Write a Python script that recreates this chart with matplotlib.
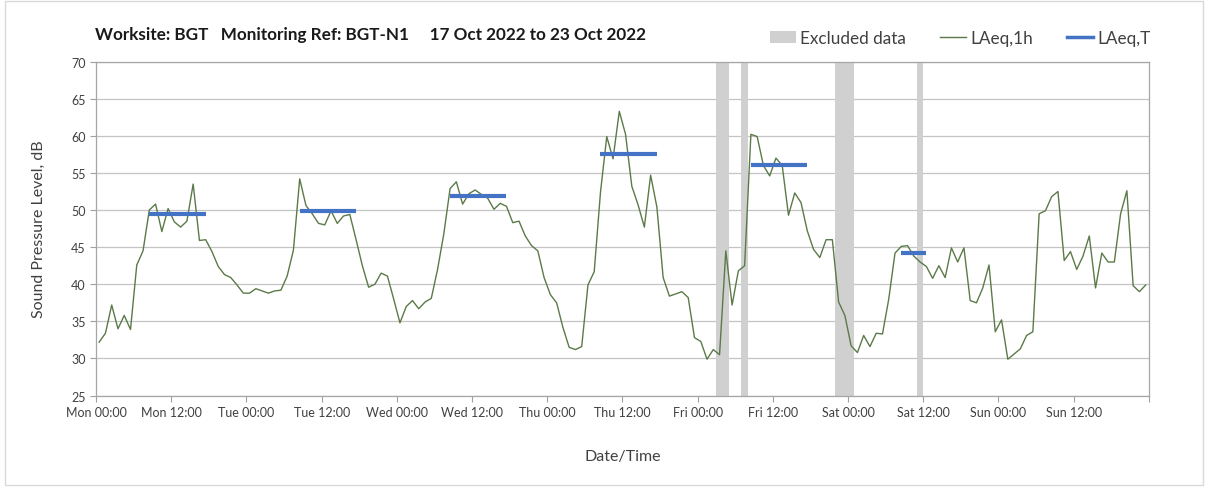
import matplotlib
matplotlib.use("Agg")
import matplotlib.pyplot as plt
from matplotlib.patches import Patch, Rectangle
from matplotlib.lines import Line2D

plt.rcParams['font.family'] = ['Lato', 'DejaVu Sans']

# hourly LAeq,1h values, Mon 00:00 .. Sun 23:00
laeq_1h = [
    32.2, 33.4, 37.2, 34.0, 35.8, 33.9, 42.6, 44.5, 50.0, 50.8, 47.1, 50.2,
    48.4, 47.7, 48.5, 53.5, 45.9, 46.0, 44.4, 42.4, 41.3, 40.9, 39.9, 38.8,
    38.8, 39.4, 39.1, 38.8, 39.1, 39.2, 41.1, 44.6, 54.2, 50.6, 49.5, 48.2,
    48.0, 49.9, 48.2, 49.2, 49.4, 46.0, 42.5, 39.6, 40.0, 41.5, 41.1, 38.0,
    34.8, 37.0, 37.8, 36.7, 37.6, 38.1, 42.0, 46.8, 52.9, 53.8, 50.8, 52.2,
    52.7, 52.1, 51.6, 50.1, 50.9, 50.5, 48.3, 48.5, 46.5, 45.2, 44.5, 40.9,
    38.6, 37.5, 34.2, 31.5, 31.2, 31.6, 39.9, 41.7, 52.4, 59.9, 56.9, 63.3,
    60.2, 53.2, 50.7, 47.7, 54.7, 50.4, 40.9, 38.4, 38.7, 39.0, 38.2, 32.8,
    32.3, 29.9, 31.2, 30.5, 44.5, 37.2, 41.8, 42.5, 60.2, 59.9, 56.0, 54.6,
    57.0, 56.0, 49.3, 52.3, 51.0, 47.2, 44.7, 43.6, 46.0, 46.0, 37.6, 35.8,
    31.7, 30.8, 33.1, 31.6, 33.4, 33.3, 38.0, 44.2, 45.1, 45.2, 43.8, 43.0,
    42.4, 40.8, 42.5, 40.9, 44.9, 43.0, 44.9, 37.8, 37.5, 39.5, 42.6, 33.6,
    35.2, 29.9, 30.6, 31.3, 33.1, 33.6, 49.5, 49.9, 51.8, 52.5, 43.2, 44.4,
    42.0, 43.8, 46.5, 39.5, 44.2, 43.0, 43.0, 49.5, 52.6, 39.8, 39.0, 39.9,
]

# LAeq,T periods: (first hour index, last hour index, level)
laeq_t_start = [8, 32, 56, 80, 104, 128]
laeq_t_end = [17, 41, 65, 89, 113, 132]
laeq_t_level = [49.5, 49.9, 51.9, 57.6, 56.1, 44.2]

# excluded periods in hours from Mon 00:00
excluded = [(99, 101), (103, 104), (118, 120), (120, 121), (131, 132)]

tick_labels = ["Mon 00:00", "Mon 12:00", "Tue 00:00", "Tue 12:00", "Wed 00:00",
               "Wed 12:00", "Thu 00:00", "Thu 12:00", "Fri 00:00", "Fri 12:00",
               "Sat 00:00", "Sat 12:00", "Sun 00:00", "Sun 12:00", ""]

green = "#5b7a48"
blue = "#4472c4"
grey_band = "#d0d0d0"
txt = "#404040"

fig = plt.figure(figsize=(12.08, 4.89), dpi=100)
ax = fig.add_axes([0.0795, 0.189, 0.8715, 0.683])

hours = [i + 0.5 for i in range(len(laeq_1h))]

for s, e in excluded:
    ax.axvspan(s, e, color=grey_band, lw=0, zorder=1)

ax.plot(hours, laeq_1h, color=green, lw=1.0, zorder=3)
for s, e, v in zip(laeq_t_start, laeq_t_end, laeq_t_level):
    ax.plot([hours[s], hours[e]], [v, v], color=blue, lw=3, solid_capstyle='butt', zorder=4)

ax.set_xlim(0, 168)
ax.set_ylim(25, 70)
ax.set_yticks(range(25, 71, 5))
ax.set_xticks(range(0, 169, 12))
ax.set_xticklabels(tick_labels)
ax.set_xticks(range(24, 168, 24), minor=True)
ax.tick_params(axis='both', which='major', labelsize=9, colors="#a0a0a0",
               labelcolor=txt, length=4, width=0.8, direction='out')
ax.tick_params(axis='x', which='minor', length=0)

ax.grid(axis='y', which='major', color="#c4c4c4", lw=0.9)
ax.grid(axis='x', which='minor', color="#dadada", lw=0.9)
ax.set_axisbelow(True)
for sp in ax.spines.values():
    sp.set_color("#a6a6a6")
    sp.set_linewidth(0.9)

ax.set_ylabel("Sound Pressure Level, dB", fontsize=11.5, color=txt, labelpad=18)
ax.set_xlabel("Date/Time", fontsize=11.5, color=txt, labelpad=22)

fig.text(0.079, 0.928, "Worksite: BGT   Monitoring Ref: BGT-N1     17 Oct 2022 to 23 Oct 2022",
         fontsize=12.3, fontweight='bold', color="#1a1a1a", va='center')

handles = [Patch(facecolor=grey_band, edgecolor='none'),
           Line2D([], [], color=green, lw=1.0),
           Line2D([], [], color=blue, lw=2.5)]
fig.legend(handles, ["Excluded data", "LAeq,1h", "LAeq,T"], ncol=3, frameon=False,
           loc='center right', bbox_to_anchor=(0.965, 0.92), fontsize=12.3,
           handlelength=1.5, handletextpad=0.25, columnspacing=2.0,
           labelcolor=txt)

fig.patches.append(Rectangle((0.004, 0.006), 0.992, 0.99, transform=fig.transFigure,
                             fill=False, edgecolor="#d9d9d9", lw=1))

fig.savefig("out.png", dpi=100)
